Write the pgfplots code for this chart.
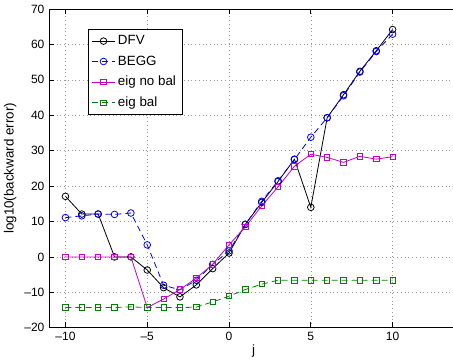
\documentclass[border=0pt]{standalone}
\usepackage{pgfplots}
\pgfplotsset{compat=1.18}
\usepackage{fontspec}
\setmainfont{Liberation Sans}
\definecolor{mmag}{rgb}{0.78,0,0.78}
\definecolor{mgreen}{rgb}{0,0.5,0}
\begin{document}
\begin{tikzpicture}
\begin{axis}[
  scale only axis, width=306pt, height=238.5pt,
  xmin=-11, xmax=14, ymin=-20, ymax=70,
  xtick={-10,-5,0,5,10}, xticklabels={--10,--5,0,5,10},
  ytick={-20,-10,0,10,20,30,40,50,60,70},
  yticklabels={--20,--10,0,10,20,30,40,50,60,70},
  tick align=inside, major tick length=4pt,
  tick style={black, line width=0.5pt},
  axis line style={black, line width=0.6pt},
  ticklabel style={font=\fontsize{9}{10}\selectfont},
  grid=major,
  major grid style={gray!80, line width=0.4pt, dash pattern=on 0.6pt off 2.2pt},
  xlabel={j}, ylabel={log10(backward error)},
  label style={font=\fontsize{9}{10}\selectfont},
  every axis x label/.style={at={(rel axis cs:0.5,-0.072)}, anchor=center},
  every axis y label/.style={at={(rel axis cs:-0.095,0.5)}, rotate=90, anchor=center},
  legend style={at={(rel axis cs:0.095,0.937)}, anchor=north west, draw=black, line width=0.6pt,
    font=\fontsize{10}{11}\selectfont, row sep=2.8pt, inner sep=2.5pt},
  legend cell align=left,
  every axis plot/.append style={line width=0.6pt},
]
\addplot[black, mark=o, mark size=2.5pt] coordinates {
(-10,17.1)(-9,12.1)(-8,12.1)(-7,0)(-6,0)(-5,-3.7)(-4,-8.7)(-3,-11.3)(-2,-7.9)(-1,-3.3)(0,1.1)
(1,9.2)(2,15.4)(3,21.3)(4,27.6)(5,14.0)(6,39.3)(7,45.8)(8,52.4)(9,58.2)(10,64.2)};
\addlegendentry{DFV}
\addplot[blue, mark=o, mark size=2.5pt, dash pattern=on 4.5pt off 3pt, mark options={solid}] coordinates {
(-10,11.1)(-9,11.6)(-8,12.1)(-7,12.0)(-6,12.4)(-5,3.4)(-4,-8.0)(-3,-9.3)(-2,-6.6)(-1,-2.1)(0,1.7)
(1,9.2)(2,15.7)(3,21.5)(4,27.5)(5,33.8)(6,39.3)(7,45.5)(8,52.2)(9,58.0)(10,62.9)};
\addlegendentry{BEGG}
\addplot[mmag, mark=square, mark size=2pt] coordinates {
(-10,0)(-9,0)(-8,0)(-7,0)(-6,0)(-5,-14.3)(-4,-11.9)(-3,-9.2)(-2,-6.0)(-1,-2.1)(0,3.4)
(1,8.5)(2,14.4)(3,19.8)(4,25.6)(5,29.0)(6,28.1)(7,26.7)(8,28.4)(9,27.6)(10,28.3)};
\addlegendentry{eig no bal}
\addplot[mgreen, mark=square, mark size=2pt, dash pattern=on 4.5pt off 3pt, mark options={solid}] coordinates {
(-10,-14.3)(-9,-14.3)(-8,-14.3)(-7,-14.3)(-6,-14.1)(-5,-14.3)(-4,-14.3)(-3,-14.3)(-2,-14.2)(-1,-12.7)(0,-11.1)
(1,-9.2)(2,-7.7)(3,-6.6)(4,-6.6)(5,-6.6)(6,-6.6)(7,-6.6)(8,-6.6)(9,-6.6)(10,-6.6)};
\addlegendentry{eig bal}
\end{axis}
\pgfresetboundingbox
\path[use as bounding box] ([xshift=-36.75pt,yshift=-25.5pt]current axis.south west) rectangle ([xshift=-3.75pt,yshift=6.75pt]current axis.north east);
\end{tikzpicture}
\end{document}
